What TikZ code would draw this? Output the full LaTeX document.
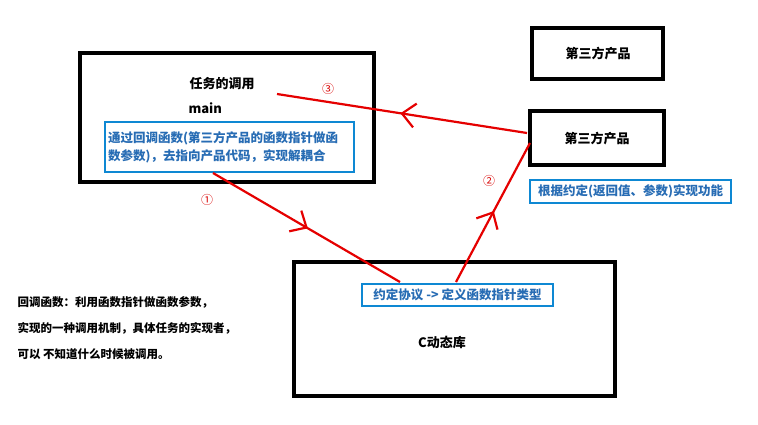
\documentclass[tikz,border=0pt]{standalone}
\usepackage{fontspec}
\setmainfont{Noto Sans CJK SC}
\usetikzlibrary{arrows.meta,decorations.markings}
\begin{document}
\begin{tikzpicture}[x=1pt,y=-1pt,
  blk/.style={draw=black,line width=4.5pt},
  blu/.style={draw=cyan!70!blue,line width=2.5pt,text=cyan!50!blue!90!black,font=\fontsize{12.5}{22}\selectfont\bfseries,align=left,inner sep=2pt},
  lbl/.style={font=\fontsize{13}{15}\selectfont\bfseries},
  num/.style={text=red!85!black,font=\fontsize{12}{14}\selectfont},
  rl/.style={draw=red!90!black,line width=2.2pt,postaction={decorate},
    decoration={markings,mark=at position 0.5 with {\draw[red!90!black,line width=2.2pt] (-13pt,12pt) -- (0pt,0pt) -- (-13pt,-12pt);}}}]
\useasboundingbox[fill=white] (0,0) rectangle (758,424);
\draw[blk] (80,53) rectangle (374,182);
\node[lbl] (t1) at (222,84) {任务的调用};
\node[lbl,anchor=west] (main) at (185,108) {main};
\node[blu,minimum width=249pt,minimum height=50pt,text width=243pt] (b1) at (229.5,147) {通过回调函数(第三方产品的函数指针做函\\[-4pt]数参数)，去指向产品代码，实现解耦合};
\draw[blk] (532,28) rectangle (663,79);
\node[lbl] (p1) at (598,54) {第三方产品};
\draw[blk] (530,111) rectangle (664,165);
\node[lbl] (p2) at (597,139) {第三方产品};
\node[blu,minimum width=201pt,minimum height=23pt] (b2) at (630.5,191.5) {根据约定(返回值、参数)实现功能};
\draw[blk] (294,262) rectangle (615,396);
\node[lbl] (c) at (442,342) {C动态库};
\node[blu,minimum width=191pt,minimum height=22pt] (b3) at (457.5,295) {约定协议 -> 定义函数指针类型};
\node[anchor=west,align=left,font=\fontsize{11.5}{26}\selectfont\bfseries] (note) at (14,328) {回调函数：利用函数指针做函数参数，\\实现的一种调用机制，具体任务的实现者，\\可以 不知道什么时候被调用。};
\coordinate (a1s) at (213,173); \coordinate (a1e) at (400,282);
\coordinate (a2s) at (456,282); \coordinate (a2e) at (530,143);
\coordinate (a3s) at (527,133); \coordinate (a3e) at (277,94);
\draw[rl] (a1s) -- (a1e);
\draw[rl] (a2s) -- (a2e);
\draw[rl] (a3s) -- (a3e);
\node[num] (n1) at (207,200) {①};
\node[num] (n2) at (489,181) {②};
\node[num] (n3) at (328,89) {③};
\end{tikzpicture}
\end{document}
